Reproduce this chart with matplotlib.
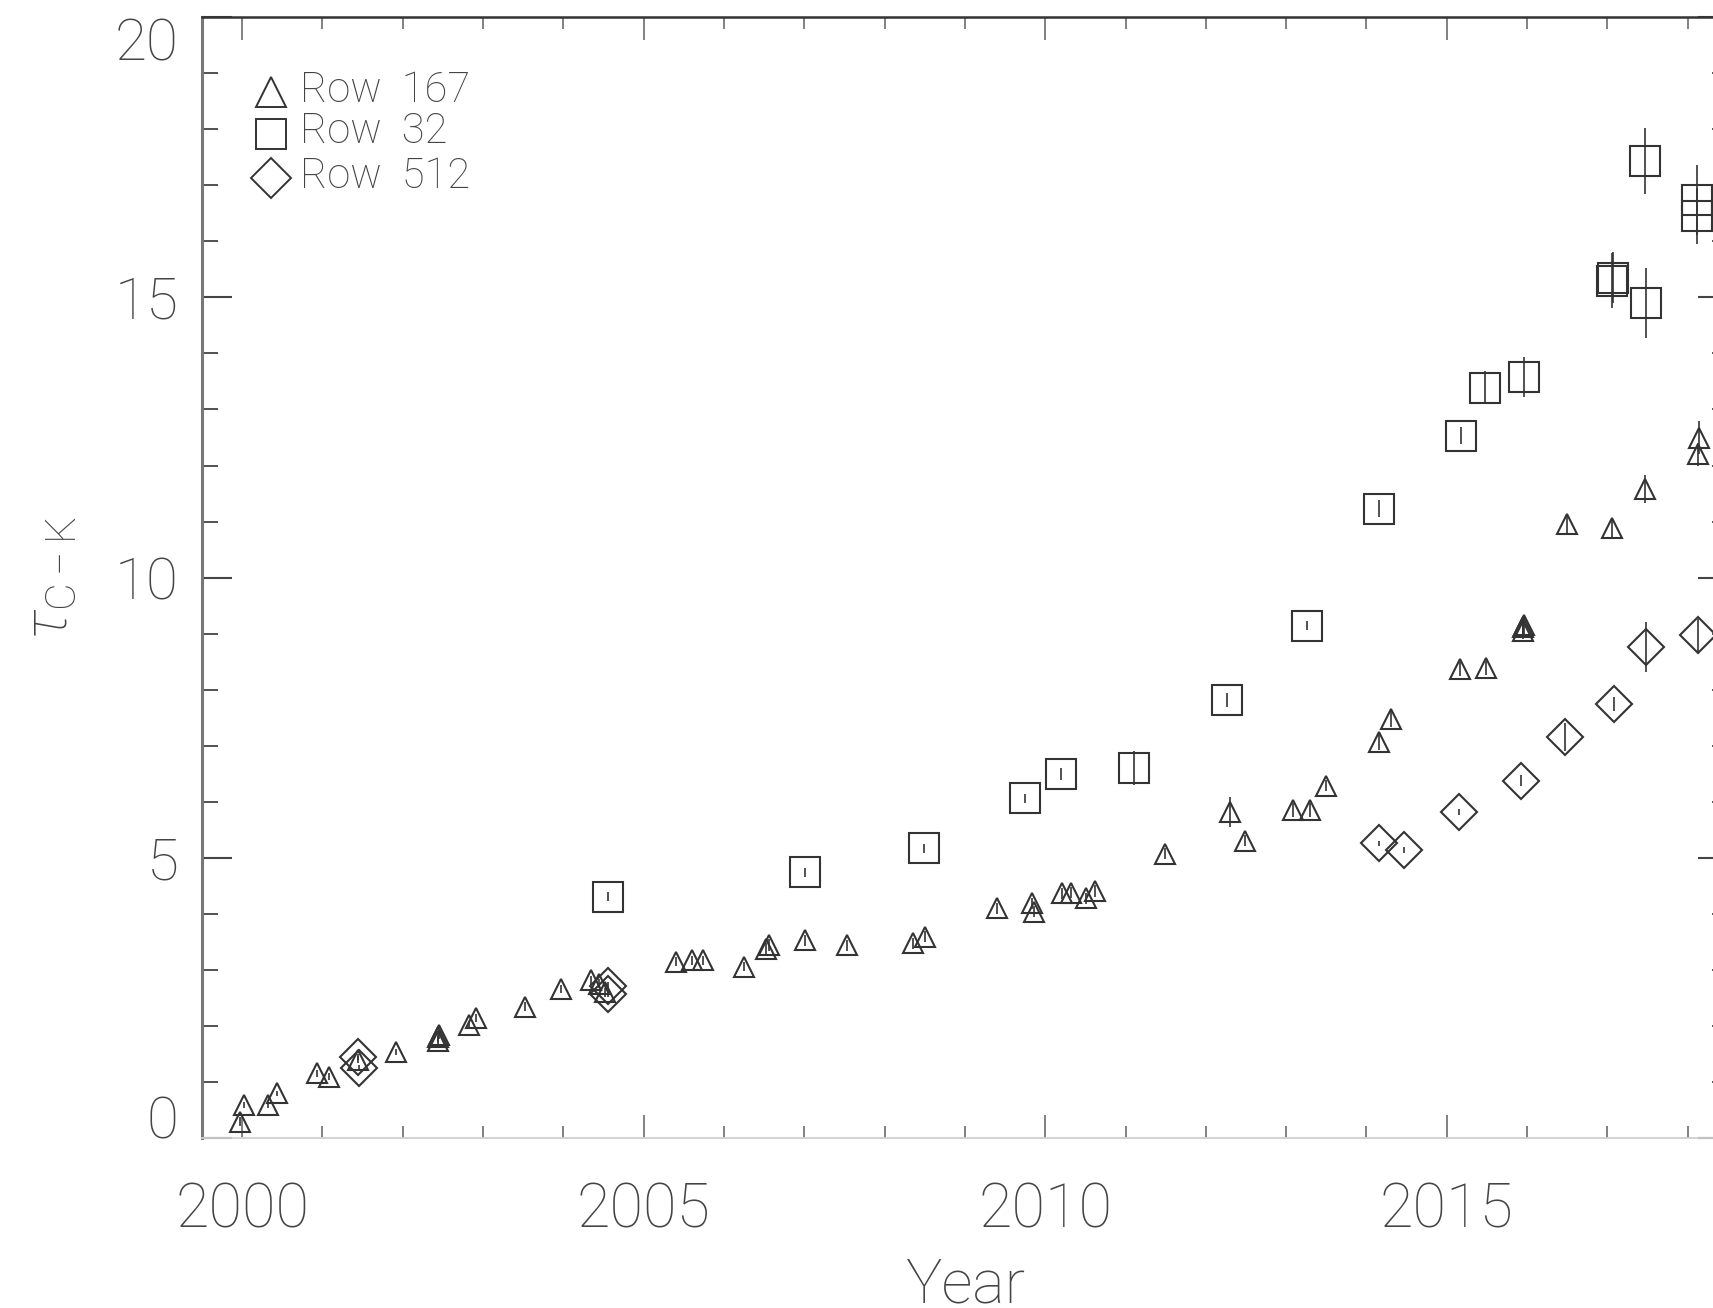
import numpy as np
import matplotlib
matplotlib.use("Agg")
import matplotlib.pyplot as plt
from matplotlib.ticker import MultipleLocator

# Row 167 (triangles): year, tau, error
row167_year = [1999.97, 2000.02, 2000.32, 2000.43, 2000.93, 2001.08, 2001.44, 2001.91,
               2002.44, 2002.44, 2002.45, 2002.82, 2002.91, 2003.52, 2003.97, 2004.35,
               2004.44, 2004.52, 2005.40, 2005.60, 2005.74, 2006.25, 2006.52, 2006.56,
               2007.01, 2007.53, 2008.35, 2008.50, 2009.40, 2009.83, 2009.86, 2010.21,
               2010.32, 2010.51, 2010.62, 2011.49, 2012.30, 2012.49, 2013.08, 2013.30,
               2013.49, 2014.15, 2014.31, 2015.16, 2015.49, 2015.95, 2015.95, 2015.96,
               2016.50, 2017.06, 2017.47, 2018.14, 2018.13]
row167_tau = [0.30, 0.59, 0.59, 0.80, 1.16, 1.10, 1.40, 1.54,
              1.74, 1.80, 1.85, 2.03, 2.14, 2.35, 2.67, 2.82,
              2.76, 2.61, 3.15, 3.18, 3.18, 3.06, 3.38, 3.45,
              3.53, 3.44, 3.48, 3.60, 4.10, 4.19, 4.04, 4.37,
              4.38, 4.28, 4.41, 5.08, 5.82, 5.31, 5.86, 5.86,
              6.29, 7.07, 7.48, 8.37, 8.39, 9.05, 9.12, 9.15,
              10.95, 10.88, 11.58, 12.50, 12.20]
row167_err = [0.08, 0.05, 0.05, 0.05, 0.06, 0.06, 0.06, 0.06,
              0.08, 0.08, 0.08, 0.07, 0.07, 0.08, 0.07, 0.08,
              0.08, 0.08, 0.08, 0.08, 0.08, 0.08, 0.10, 0.10,
              0.10, 0.10, 0.10, 0.10, 0.10, 0.10, 0.10, 0.10,
              0.10, 0.10, 0.10, 0.10, 0.27, 0.10, 0.12, 0.12,
              0.10, 0.15, 0.15, 0.12, 0.12, 0.15, 0.15, 0.15,
              0.15, 0.15, 0.25, 0.30, 0.20]

# Row 32 (squares)
row32_year = [2004.56, 2007.01, 2008.49, 2009.75, 2010.20, 2011.11, 2012.26, 2013.26,
              2014.15, 2015.18, 2015.48, 2015.96, 2017.06, 2017.07, 2017.47, 2017.48,
              2018.12, 2018.12]
row32_tau = [4.31, 4.75, 5.17, 6.07, 6.50, 6.60, 7.82, 9.14,
             11.23, 12.53, 13.39, 13.58, 15.30, 15.35, 17.43, 14.90,
             16.74, 16.45]
row32_err = [0.08, 0.08, 0.08, 0.08, 0.10, 0.30, 0.12, 0.08,
             0.15, 0.15, 0.30, 0.35, 0.49, 0.45, 0.59, 0.62,
             0.62, 0.50]

# Row 512 (diamonds)
row512_year = [2001.44, 2001.45, 2004.55, 2004.56, 2014.16, 2014.47, 2015.15, 2015.93,
               2016.47, 2017.08, 2017.48, 2018.13]
row512_tau = [1.45, 1.25, 2.72, 2.58, 5.26, 5.14, 5.82, 6.38,
              7.15, 7.75, 8.76, 8.97]
row512_err = [0.05, 0.05, 0.06, 0.06, 0.05, 0.05, 0.06, 0.10,
              0.25, 0.12, 0.45, 0.30]

legend_labels = ["Row  167", "Row  32", "Row  512"]

TEXT = "#444444"
INK = "#333333"

plt.rcParams["font.family"] = ["Roboto", "DejaVu Sans"]
plt.rcParams["font.weight"] = "light"
plt.rcParams["axes.labelweight"] = "light"
plt.rcParams["mathtext.fontset"] = "custom"
plt.rcParams["mathtext.rm"] = "Roboto:light"
plt.rcParams["mathtext.it"] = "Roboto:italic:light"

fig = plt.figure(figsize=(17.13, 13.08), dpi=100)
ax = fig.add_axes([0.1179, 0.1297, 0.8908, 0.8573])

style = dict(ls="none", mfc="none", mec=INK, mew=1.5, ecolor=INK,
             elinewidth=1.2, capsize=0)
ax.errorbar(row167_year, row167_tau, yerr=row167_err, marker="^", ms=14, **style)
ax.errorbar(row32_year, row32_tau, yerr=row32_err, marker="s", ms=21, **style)
ax.errorbar(row512_year, row512_tau, yerr=row512_err, marker="D", ms=18.5, **style)

ax.set_xlim(1999.5, 2018.5)
ax.set_ylim(0, 20)
ax.xaxis.set_major_locator(MultipleLocator(5))
ax.xaxis.set_minor_locator(MultipleLocator(1))
ax.yaxis.set_major_locator(MultipleLocator(5))
ax.yaxis.set_minor_locator(MultipleLocator(1))

ax.tick_params(axis="both", which="both", direction="in", top=True, right=True)
ax.tick_params(axis="x", which="major", length=16.5, width=1.3, color="#777777",
               labelsize=44, labelcolor=TEXT, pad=31)
ax.tick_params(axis="x", which="minor", length=8.5, width=1.3, color="#777777")
ax.tick_params(axis="y", which="major", length=21.5, width=1.5, color="#444444",
               labelsize=42, labelcolor=TEXT, pad=17)
ax.tick_params(axis="y", which="minor", length=11.5, width=1.3, color="#444444")

ax.spines["left"].set_color("#777777")
ax.spines["left"].set_linewidth(2.2)
ax.spines["top"].set_color("#333333")
ax.spines["top"].set_linewidth(1.8)
ax.spines["bottom"].set_color("#d0d0d0")
ax.spines["bottom"].set_linewidth(1.3)
ax.spines["right"].set_color("#555555")

ax.set_xlabel("Year", fontsize=44, color=TEXT, labelpad=12, fontweight="light")
ax.set_ylabel(r"$\tau_{\mathrm{C-K}}$", fontsize=44, color=TEXT, labelpad=26)

# legend drawn as symbols plus text in the upper left corner
for (mk, ms), yy, lab in zip([("^", 21), ("s", 21), ("D", 20)],
                             [0.933, 0.896, 0.856], legend_labels):
    ax.plot([0.045], [yy], marker=mk, ms=ms, mfc="none", mec=INK, mew=1.4,
            transform=ax.transAxes, clip_on=False)
    ax.text(0.0642, yy - 0.0085, lab, transform=ax.transAxes, fontsize=30,
            color=TEXT, va="baseline", ha="left", fontweight="light")

# keep the end labels of the y axis inside the frame
fig.canvas.draw()
for tick in ax.yaxis.get_major_ticks():
    if abs(tick.get_loc() - 0) < 1e-9:
        tick.label1.set_verticalalignment("baseline")
    elif abs(tick.get_loc() - 20) < 1e-9:
        tick.label1.set_verticalalignment("top")

fig.savefig("out.png", dpi=100)
